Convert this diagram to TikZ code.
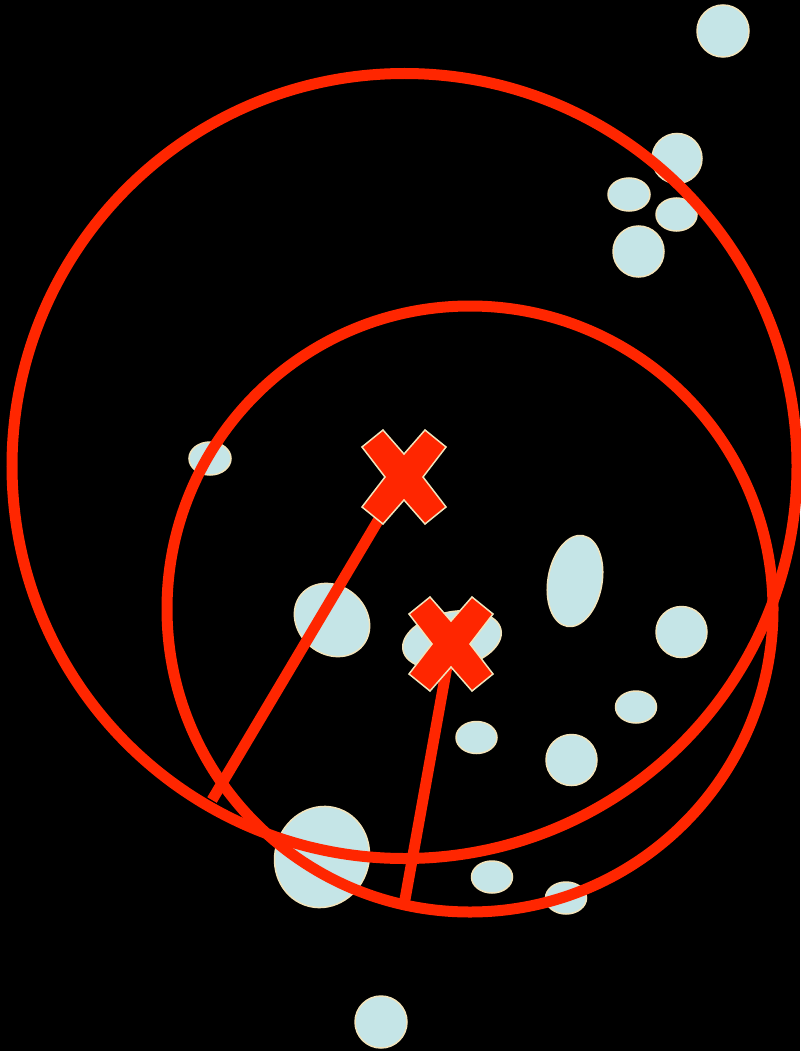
\documentclass[tikz,border=0pt]{standalone}
\definecolor{redx}{HTML}{FF2600}
\definecolor{cyanfill}{HTML}{C5E5E7}
\definecolor{creamline}{HTML}{F2E4BC}
\begin{document}
\begin{tikzpicture}[x=1pt,y=-1pt,
  blob/.style={fill=cyanfill,draw=creamline,line width=1.5pt},
  ring/.style={draw=redx,line width=11pt},
  radline/.style={draw=redx,line width=11pt},
  xfill/.style={fill=redx,draw=creamline,line width=1.5pt,line join=miter},
  xmark/.pic={\path[xfill] (-42,-30)--(-21,-47)--(0,-23)--(21,-47)--(42,-30)--(19,0)--(42,30)--(21,47)--(0,23)--(-21,47)--(-42,30)--(-19,0)--cycle;}]
\fill[black] (0,0) rectangle (800,1051);
\useasboundingbox (0,0) rectangle (800,1051);
% blobs
\path[blob] (723,31) circle [radius=26];
\path[blob] (677,158.5) circle [radius=25];
\path[blob] (629,194.5) ellipse [x radius=21, y radius=16.5];
\path[blob] (676.5,214.5) ellipse [x radius=20.5, y radius=16.5];
\path[blob] (638.5,251.5) circle [radius=25.5];
\path[blob] (210,458.5) ellipse [x radius=21, y radius=16.5];
\path[blob, rotate around={-10:(575,581)}] (575,581) ellipse [x radius=27, y radius=46];
\path[blob, rotate around={-40:(332,620)}] (332,620) ellipse [x radius=40, y radius=34];
\path[blob, rotate around={12:(452,640)}] (452,640) ellipse [x radius=50, y radius=28];
\path[blob] (681.5,632) circle [radius=25.5];
\path[blob] (636,707) ellipse [x radius=20.5, y radius=16];
\path[blob] (476.5,737.5) ellipse [x radius=20.5, y radius=16];
\path[blob] (571.5,760) circle [radius=25.5];
\path[blob, rotate around={-20:(322,857)}] (322,857) ellipse [x radius=47, y radius=51];
\path[blob] (492,877) ellipse [x radius=20.5, y radius=16];
\path[blob] (566,898) ellipse [x radius=20.5, y radius=16];
\path[blob] (381,1022) circle [radius=26];
% points
\coordinate (c1) at (404,477);
\coordinate (c2) at (451,644);
\coordinate (e1) at (212,800);
\coordinate (e2) at (404,905);
% circles
\path[ring] (404.5,466) circle [radius=392.5];
\path[ring] (470,609) circle [radius=303];
% radii
\draw[radline] (c1) -- (e1);
\draw[radline] (c2) -- (e2);
% crosses
\pic at (c1) {xmark};
\pic at (c2) {xmark};
\end{tikzpicture}
\end{document}
